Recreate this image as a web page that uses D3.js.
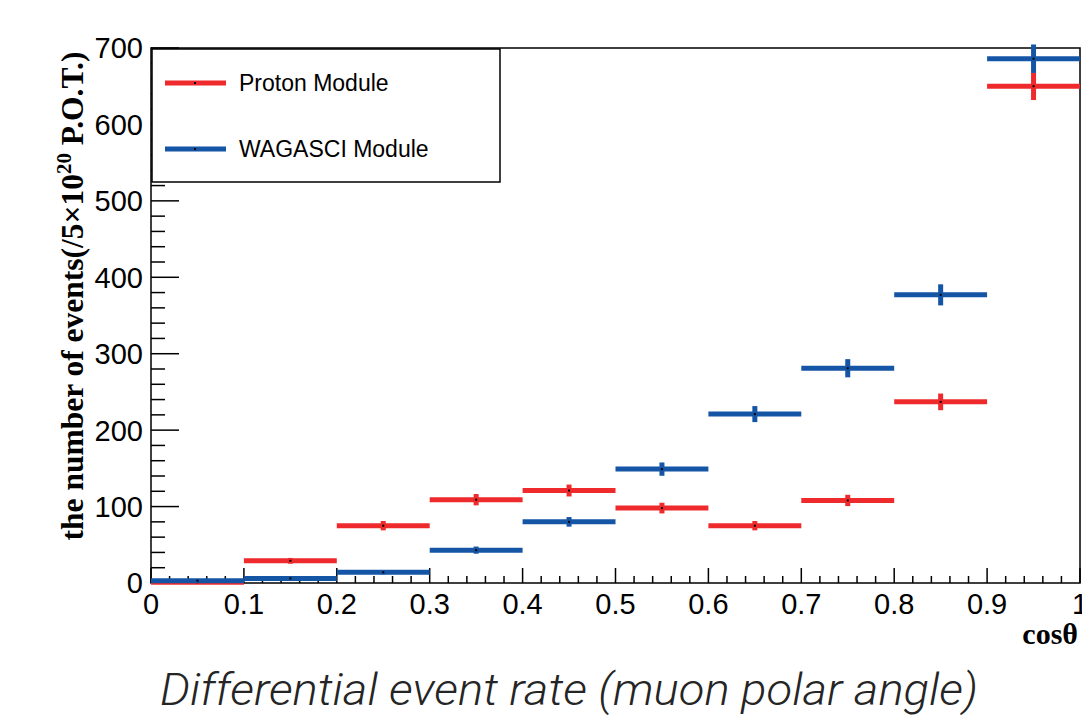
<!DOCTYPE html>
<meta charset="utf-8">
<script src="https://cdn.jsdelivr.net/npm/d3@7"></script>
<style>
body { margin: 0; background: #fff; }
.tick-label { font-family: "Liberation Sans", Arial, sans-serif; font-size: 29px; fill: #000; }
.leg-text { font-family: "Liberation Sans", Arial, sans-serif; font-size: 23px; fill: #000; }
.ytitle, .xtitle { font-family: "Liberation Serif", "Times New Roman", serif; font-weight: bold; fill: #000; }
.caption { font-family: Roboto, sans-serif; font-style: italic; font-weight: 300; fill: #252525; }
</style>
<body>
<div id="chart"></div>
<script>
// ---------------- data ----------------
var binEdges = [0, 0.1, 0.2, 0.3, 0.4, 0.5, 0.6, 0.7, 0.8, 0.9, 1.0];
var protonCounts = [1, 29, 75, 109, 121, 98, 75, 108, 237, 650];
var protonErrors = [0.7, 3.8, 6.1, 7.4, 7.8, 7.0, 6.1, 7.4, 10.9, 18.1];
var wagasciCounts = [3, 6, 14, 43, 80, 149, 221, 281, 377, 686];
var wagasciErrors = [1.2, 1.7, 2.7, 4.7, 6.3, 8.7, 10.5, 11.9, 13.8, 18.6];
var seriesNames = ["Proton Module", "WAGASCI Module"];
var seriesColors = ["#ee2a2c", "#1555a6"];
var xTicks = [0, 0.1, 0.2, 0.3, 0.4, 0.5, 0.6, 0.7, 0.8, 0.9, 1];
var yTicks = [0, 100, 200, 300, 400, 500, 600, 700];

// ---------------- layout ----------------
var W = 1082, H = 722;
var pL = 151, pR = 1080, pT = 48, pB = 583;

var svg = d3.select("#chart").append("svg")
    .attr("width", W)
    .attr("height", H);

var x = d3.scaleLinear().domain([0, 1]).range([pL, pR]);
var y = d3.scaleLinear().domain([0, 700]).range([pB, pT]);

// frame
svg.append("rect")
    .attr("x", pL).attr("y", pT)
    .attr("width", pR - pL).attr("height", pB - pT)
    .attr("fill", "none").attr("stroke", "#000").attr("stroke-width", 1.5);

// y axis ticks (inside)
var yMinor = d3.range(0, 701, 20);
svg.append("g").selectAll("line").data(yMinor).enter().append("line")
    .attr("x1", pL).attr("x2", function(d) { return pL + (d % 100 === 0 ? 28 : 14); })
    .attr("y1", function(d) { return y(d); }).attr("y2", function(d) { return y(d); })
    .attr("stroke", "#000").attr("stroke-width", 1.5);

svg.append("g").selectAll("text").data(yTicks).enter().append("text")
    .attr("class", "tick-label")
    .attr("x", pL - 8)
    .attr("y", function(d) { return y(d); })
    .attr("dy", "0.36em")
    .attr("text-anchor", "end")
    .text(function(d) { return d; });

// x axis ticks (inside)
var xMinor = d3.range(0, 51).map(function(i) { return i / 50; });
svg.append("g").selectAll("line").data(xMinor).enter().append("line")
    .attr("x1", function(d) { return x(d); }).attr("x2", function(d) { return x(d); })
    .attr("y1", pB).attr("y2", function(d, i) { return pB - (i % 5 === 0 ? 15 : 7); })
    .attr("stroke", "#000").attr("stroke-width", 1.5);

svg.append("g").selectAll("text").data(xTicks).enter().append("text")
    .attr("class", "tick-label")
    .attr("x", function(d) { return x(d); })
    .attr("y", pB + 31)
    .attr("text-anchor", "middle")
    .text(function(d) { return d; });

// axis titles
var yt = svg.append("text")
    .attr("class", "ytitle")
    .attr("transform", "translate(83,296) rotate(-90)")
    .attr("text-anchor", "middle")
    .style("font-size", "31.5px");
yt.append("tspan").text("the number of events(/5\u00d710");
yt.append("tspan").attr("dy", -12).style("font-size", "21px").text("20");
yt.append("tspan").attr("dy", 12).text(" P.O.T.)");

svg.append("text")
    .attr("class", "xtitle")
    .attr("x", 1078).attr("y", 644)
    .attr("text-anchor", "end")
    .style("font-size", "30px")
    .text("cos\u03b8");

// ---------------- histograms ----------------
function drawSeries(counts, errors, color) {
    var g = svg.append("g");
    var bins = counts.map(function(v, i) {
        return { lo: binEdges[i], hi: binEdges[i + 1], v: v, e: errors[i] };
    });
    g.selectAll(".hbar").data(bins).enter().append("line")
        .attr("x1", function(d) { return x(d.lo); })
        .attr("x2", function(d) { return x(d.hi); })
        .attr("y1", function(d) { return y(d.v); })
        .attr("y2", function(d) { return y(d.v); })
        .attr("stroke", color).attr("stroke-width", 5);
    g.selectAll(".ebar").data(bins).enter().append("line")
        .attr("x1", function(d) { return x((d.lo + d.hi) / 2); })
        .attr("x2", function(d) { return x((d.lo + d.hi) / 2); })
        .attr("y1", function(d) { return y(d.v - d.e); })
        .attr("y2", function(d) { return y(d.v + d.e); })
        .attr("stroke", color).attr("stroke-width", 5);
    g.selectAll(".dot").data(bins).enter().append("rect")
        .attr("x", function(d) { return x((d.lo + d.hi) / 2) - 1; })
        .attr("y", function(d) { return y(d.v) - 1; })
        .attr("width", 2).attr("height", 2)
        .attr("fill", "#000");
}
drawSeries(protonCounts, protonErrors, seriesColors[0]);
drawSeries(wagasciCounts, wagasciErrors, seriesColors[1]);

// ---------------- legend ----------------
var leg = svg.append("g");
leg.append("rect")
    .attr("x", 152).attr("y", 49)
    .attr("width", 348).attr("height", 133)
    .attr("fill", "#fff").attr("stroke", "#000").attr("stroke-width", 1.5);
var legY = [83, 149];
seriesNames.forEach(function(name, i) {
    leg.append("line")
        .attr("x1", 165).attr("x2", 226)
        .attr("y1", legY[i]).attr("y2", legY[i])
        .attr("stroke", seriesColors[i]).attr("stroke-width", 5);
    leg.append("rect")
        .attr("x", 194).attr("y", legY[i] - 1)
        .attr("width", 2).attr("height", 2).attr("fill", "#000");
    leg.append("text")
        .attr("class", "leg-text")
        .attr("x", 239).attr("y", legY[i])
        .attr("dy", "0.36em")
        .text(name);
});

// caption
svg.append("text")
    .attr("class", "caption")
    .attr("x", 160).attr("y", 705)
    .attr("textLength", 818)
    .attr("lengthAdjust", "spacingAndGlyphs")
    .style("font-size", "45px")
    .text("Differential event rate (muon polar angle)");
</script>
</body>
